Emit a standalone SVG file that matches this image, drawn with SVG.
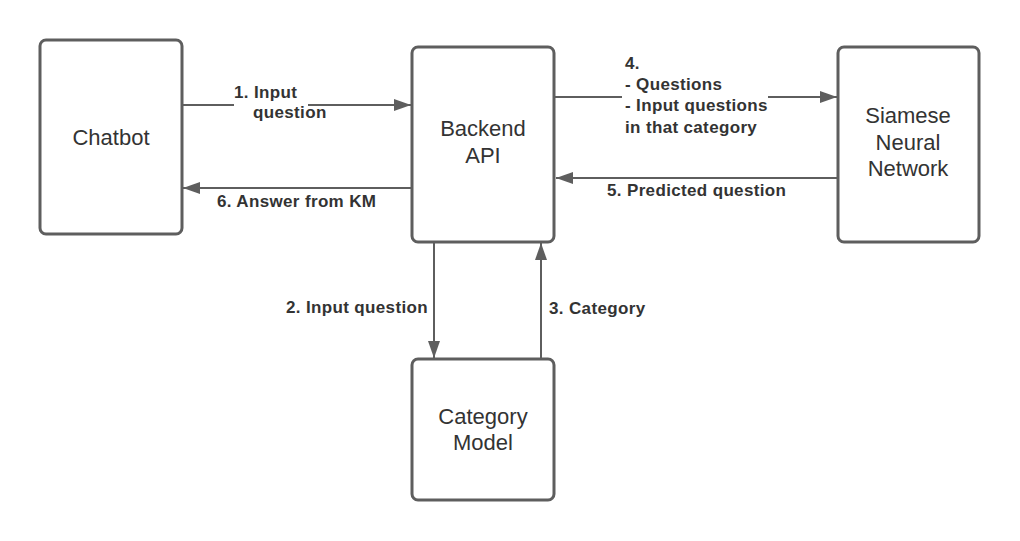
<svg xmlns="http://www.w3.org/2000/svg" width="1020" height="541" viewBox="0 0 1020 541">
<style>
.box{fill:#fff;stroke:#5e5e5e;stroke-width:3}
.nt{font-family:"Liberation Sans",Arial,sans-serif;font-size:22px;fill:#333;text-anchor:middle}
.lt{font-family:"Liberation Sans",Arial,sans-serif;font-size:17px;font-weight:bold;fill:#333;letter-spacing:0.35px}
.ln{stroke:#5e5e5e;stroke-width:2;fill:none}
</style>
<defs>
<marker id="ah" markerUnits="userSpaceOnUse" markerWidth="18" markerHeight="12" refX="17" refY="6" orient="auto">
<path d="M0,0 L17,6 L0,12 Z" fill="#5e5e5e"/>
</marker>
</defs>
<rect width="1020" height="541" fill="#fff"/>
<g id="connectors">
<g id="c1"><path class="ln" d="M182,105 H234 M308,105 H411" marker-end="url(#ah)"/><text class="lt" x="234" y="98">1. Input</text><text class="lt" x="253" y="118">question</text></g>
<g id="c6"><path class="ln" d="M412,188 H183" marker-end="url(#ah)"/><text class="lt" x="217" y="207">6. Answer from KM</text></g>
<g id="c4"><path class="ln" d="M555,97 H622 M768,97 H837" marker-end="url(#ah)"/><text class="lt" x="625" y="69">4.</text><text class="lt" x="625" y="90">- Questions</text><text class="lt" x="625" y="111">- Input questions</text><text class="lt" x="625" y="133">in that category</text></g>
<g id="c5"><path class="ln" d="M838,178 H556" marker-end="url(#ah)"/><text class="lt" x="607" y="196">5. Predicted question</text></g>
<g id="c2"><path class="ln" d="M434,242 V358" marker-end="url(#ah)"/><text class="lt" x="286" y="313">2. Input question</text></g>
<g id="c3"><path class="ln" d="M541,359 V243" marker-end="url(#ah)"/><text class="lt" x="549" y="314">3. Category</text></g>
</g>
<g id="chatbot"><rect class="box" x="40" y="40" width="142" height="194" rx="6"/><text class="nt" x="111" y="145">Chatbot</text></g>
<g id="backend"><rect class="box" x="412" y="47" width="142" height="195" rx="6"/><text class="nt" x="483" y="136">Backend</text><text class="nt" x="483" y="163">API</text></g>
<g id="siamese"><rect class="box" x="838" y="47" width="141" height="195" rx="6"/><text class="nt" x="908" y="123">Siamese</text><text class="nt" x="908" y="150">Neural</text><text class="nt" x="908" y="176">Network</text></g>
<g id="category"><rect class="box" x="412" y="359" width="142" height="141" rx="6"/><text class="nt" x="483" y="424">Category</text><text class="nt" x="483" y="450">Model</text></g>
</svg>
